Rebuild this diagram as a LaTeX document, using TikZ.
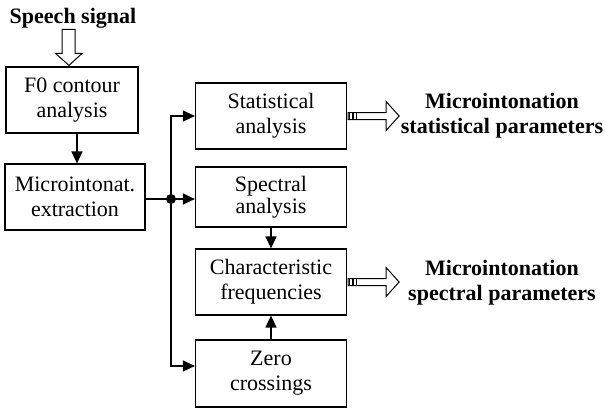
\documentclass[tikz,border=0pt]{standalone}
\usepackage{fontspec}
\setmainfont{Liberation Serif}
\usetikzlibrary{arrows.meta}
\begin{document}
\begin{tikzpicture}[x=1pt,y=-1pt,
  box/.style={draw,line width=1.2pt,inner sep=0pt,align=center,font=\fontsize{22}{25}\selectfont},
  conn/.style={line width=1.4pt,-{Triangle[length=12pt,width=11pt]}},
  plain/.style={line width=1.4pt},
  lbl/.style={align=center,font=\fontsize{22}{25}\selectfont\bfseries},
  hollow/.style={draw,line width=1pt,fill=white}]
\useasboundingbox (0,0) rectangle (605,408);

\node[lbl,anchor=base] (sp) at (73,23) {Speech signal};
\node[box,minimum width=132pt,minimum height=66pt] (f0) at (72,100) {F0 contour\\analysis};
\node[box,minimum width=140pt,minimum height=66pt] (micro) at (75,197) {Microintonat.\\extraction};
\node[box,minimum width=151pt,minimum height=66pt] (stat) at (271,116) {Statistical\\analysis};
\node[box,minimum width=151pt,minimum height=60pt,font=\fontsize{22}{22}\selectfont] (spec) at (271,197) {Spectral\\analysis};
\node[box,minimum width=151pt,minimum height=66pt] (char) at (271,282) {Characteristic\\frequencies};
\node[box,minimum width=151pt,minimum height=67pt] (zero) at (271,373.5) {Zero\\crossings};

\node[lbl] (l1) at (502,116) {Microintonation\\statistical parameters};
\node[lbl] (l2) at (502,283) {Microintonation\\spectral parameters};

% hollow input arrow
\begin{scope}[shift={(f0.north)}]
  \draw[hollow] (-3,-1) -- (-16.5,-13) -- (-10,-13) -- (-10,-37) -- (3,-37) -- (3,-13) -- (10,-13) -- cycle;
\end{scope}

% hollow output arrows
\foreach \n in {stat,char} {
  \begin{scope}[shift={(\n.east)}]
    \draw[hollow] (1,-3.5) -- (39,-3.5) -- (39,-14.5) -- (52,0) -- (39,14.5) -- (39,3.5) -- (1,3.5) -- cycle;
    \foreach \xx in {2.5,6,9.5} \draw[line width=1.6pt] (\xx,-3.5) -- (\xx,3.5);
  \end{scope}
}

% connectors
\coordinate (ax) at (77,0);
\draw[conn] (f0.south -| ax) -- (micro.north -| ax);
\coordinate (j) at (171,199);
\coordinate (zy) at (0,366);
\draw[plain] (micro.east |- j) -- (j);
\draw[conn] (j) -- (spec.west |- j);
\draw[conn] (j) -- (j |- stat.west) -- (stat.west);
\draw[conn] (j) -- (j |- zy) -- (zero.west |- zy);
\fill (j) circle (5pt);
\draw[conn] (spec) -- (char);
\draw[conn] (zero) -- (char);
\end{tikzpicture}
\end{document}
